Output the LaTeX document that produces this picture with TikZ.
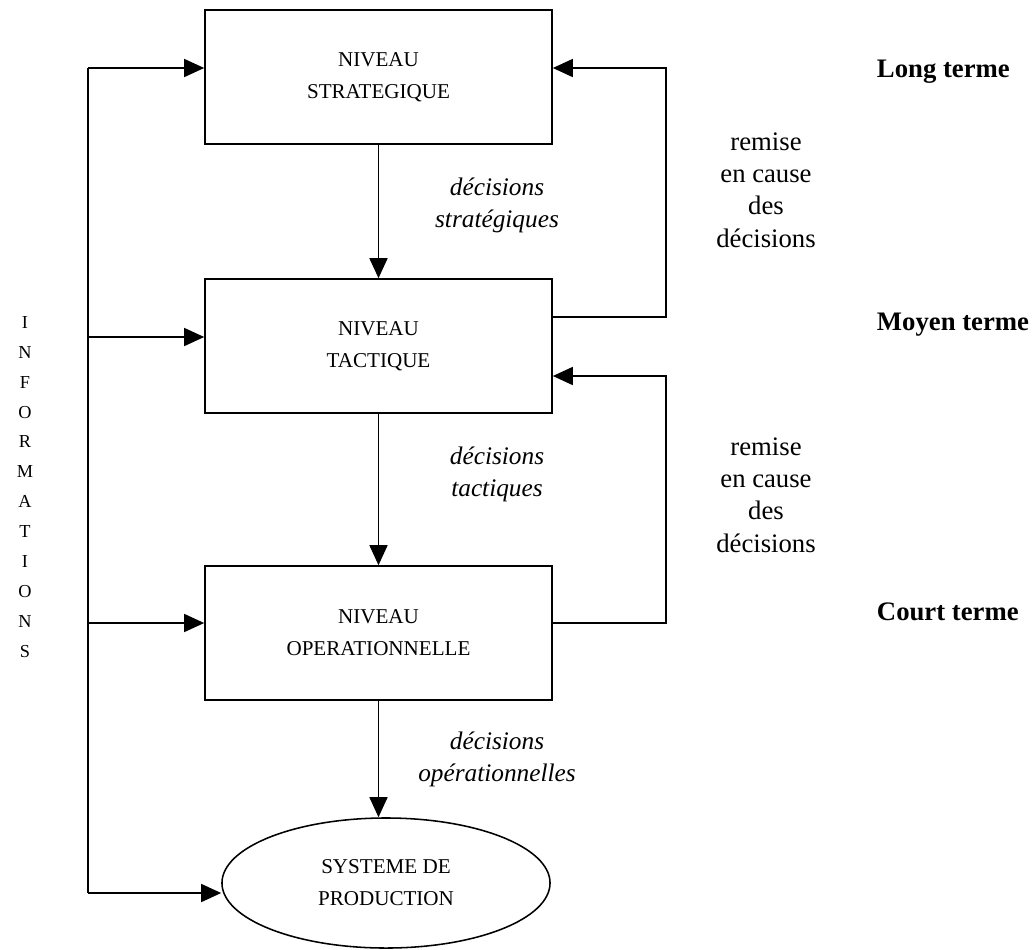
\documentclass[tikz,border=0pt]{standalone}
\usepackage{fontspec}
\setmainfont{Liberation Serif}
\usetikzlibrary{shapes.geometric, arrows.meta, positioning}

\begin{document}
\begin{tikzpicture}[
            x=0.025cm, y=-0.025cm, % one unit = one pixel of the page
            niveau/.style={rectangle, draw, line width=1.1pt, minimum width=8.675cm, minimum height=3.35cm, align=center, font=\fontsize{15}{22.7}\selectfont}, % the three levels
            systeme/.style={ellipse, draw, line width=1.1pt, minimum width=8.2cm, minimum height=3.25cm, inner sep=0pt, align=center, font=\fontsize{15}{22.7}\selectfont},
            fleche/.style={line width=1.1pt, -{Triangle[length=0.5cm, width=0.45cm]}},
            decision/.style={align=center, font=\fontsize{18}{22.7}\selectfont\itshape},
            remise/.style={align=center, font=\fontsize{19}{23}\selectfont},
            terme/.style={anchor=west, font=\fontsize{19}{23}\selectfont\bfseries}
            ]
        \useasboundingbox (0,0) rectangle (1032,949);

                % levels and production system
                \node[niveau] (strat) at (378.5,77) {NIVEAU\\STRATEGIQUE};
                \node[niveau] (tact) at (378.5,346) {NIVEAU\\TACTIQUE};
                \node[niveau] (oper) at (378.5,633) {NIVEAU\\OPERATIONNELLE};
                \node[systeme] (prod) at (386,883) {SYSTEME DE\\PRODUCTION};

                % decisions going down
                \draw[fleche] (strat) -- (tact);
                \draw[fleche] (tact) -- (oper);
                \draw[fleche] (oper.south) -- (oper.south |- prod.north);
                \node[decision] (dstrat) at (497,205) {décisions\\stratégiques};
                \node[decision] (dtact) at (497,474) {décisions\\tactiques};
                \node[decision] (doper) at (497,759) {décisions\\opérationnelles};

                % informations bus on the left
                \coordinate (i1) at (88,68);
                \coordinate (i2) at (88,337);
                \coordinate (i3) at (88,623);
                \coordinate (i4) at (88,893);
                \draw[line width=1.1pt] (i1) -- (i4);
                \draw[fleche] (i1) -- (i1 -| strat.west);
                \draw[fleche] (i2) -- (i2 -| tact.west);
                \draw[fleche] (i3) -- (i3 -| oper.west);
                \draw[fleche] (i4) -- (i4 -| prod.west);
                \node[align=center, font=\fontsize{13}{21.3}\selectfont] (info) at (25,487)
                    {I\\N\\F\\O\\R\\M\\A\\T\\I\\O\\N\\S};

                % feedback loops on the right
                \coordinate (r1) at (666,317);
                \coordinate (r2) at (666,68);
                \coordinate (r3) at (666,623);
                \coordinate (r4) at (666,376);
                \draw[fleche] (r1 -| tact.east) -- (r1) -- (r2) -- (r2 -| strat.east);
                \draw[fleche] (r3 -| oper.east) -- (r3) -- (r4) -- (r4 -| tact.east);
                \node[remise] (rem1) at (766,190) {remise\\en cause\\des\\décisions};
                \node[remise] (rem2) at (766,495) {remise\\en cause\\des\\décisions};

                % horizons
                \node[terme] (long) at (872,72) {Long terme};
                \node[terme] (moyen) at (872,325) {Moyen terme};
                \node[terme] (court) at (872,612) {Court terme};

            \end{tikzpicture}
\end{document}
